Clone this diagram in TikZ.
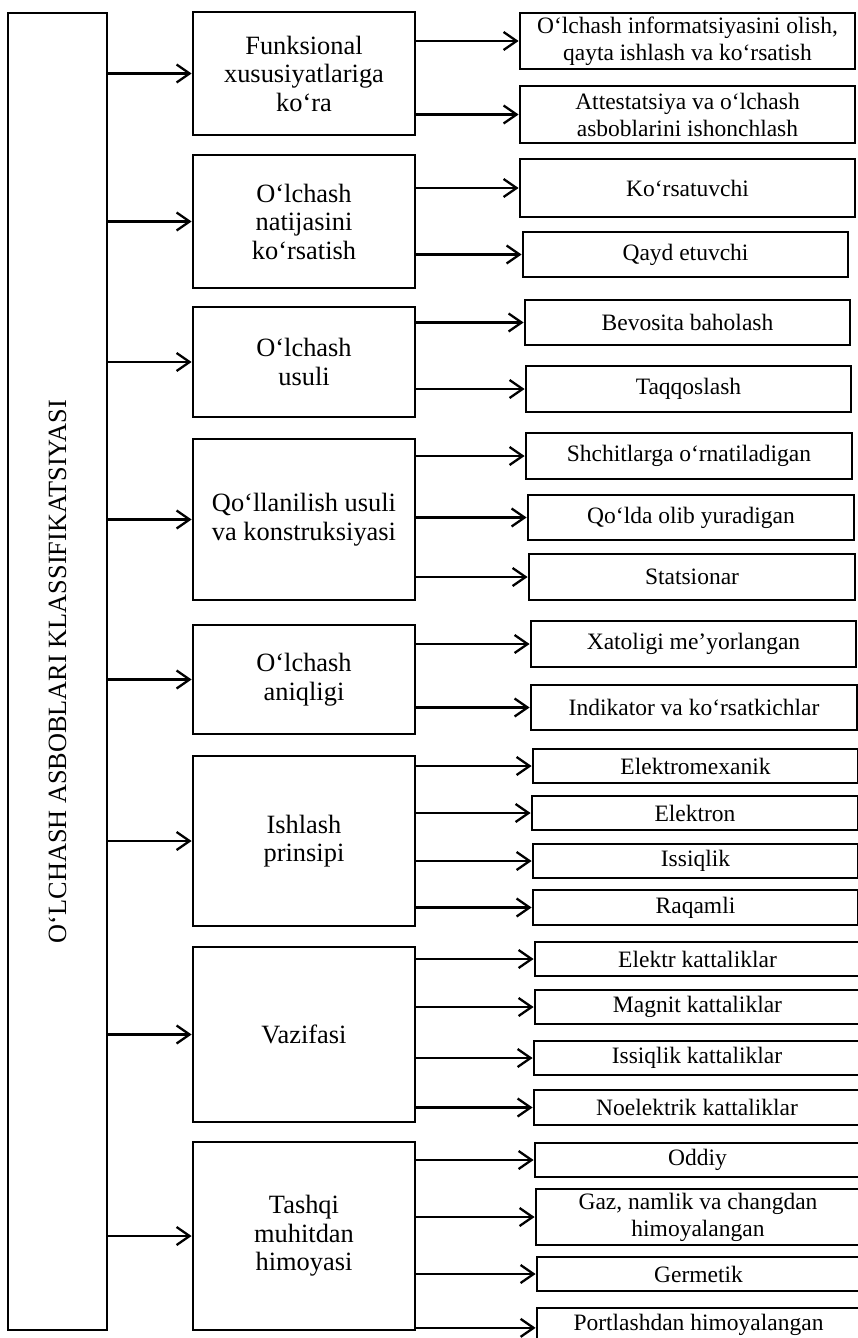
\documentclass[tikz,border=0pt]{standalone}
\usepackage{fontspec}
\setmainfont{Liberation Serif}
\usetikzlibrary{arrows.meta}
\tikzset{
    block/.style = {draw, rectangle, line width=2.8pt, align=center, inner sep=2pt},
    midblock/.style = {block, minimum width=222pt, font=\fontsize{26.4}{28.5}\selectfont},
    subblock/.style = {block, font=\fontsize{23.5}{27}\selectfont},
    arrow/.style = {draw, line width=2.3pt, -{Straight Barb[length=13pt,width=18pt]}}
}

\begin{document}
\begin{tikzpicture}[x=1pt, y=-1pt]
                \useasboundingbox (0,0) rectangle (858,1338);
                \clip (0,0) rectangle (858,1338);
                \node[block, rotate=90, minimum width=1317pt, minimum height=99pt, font=\fontsize{26.3}{30}\selectfont] (title) at (57.5,671.5) {O‘LCHASH ASBOBLARI KLASSIFIKATSIYASI};
                \node[midblock, minimum height=123pt] (m1) at (304,73.5) {Funksional\\xususiyatlariga\\ko‘ra};
                \node[midblock, minimum height=133pt] (m2) at (304,221.5) {O‘lchash\\natijasini\\ko‘rsatish};
                \node[midblock, minimum height=110pt] (m3) at (304,362) {O‘lchash\\usuli};
                \node[midblock, minimum height=161pt] (m4) at (304,519.5) {Qo‘llanilish usuli\\va konstruksiyasi};
                \node[midblock, minimum height=109pt] (m5) at (304,679.5) {O‘lchash\\aniqligi};
                \node[midblock, minimum height=170pt] (m6) at (304,841) {Ishlash\\prinsipi};
                \node[midblock, minimum height=175pt] (m7) at (304,1034.5) {Vazifasi};
                \node[midblock, minimum height=188pt] (m8) at (304,1236) {Tashqi\\muhitdan\\himoyasi};
                \node[subblock, minimum width=335pt, minimum height=56pt] (r1) at (687.5,41) {O‘lchash informatsiyasini olish,\\qayta ishlash va ko‘rsatish};
                \node[subblock, minimum width=335pt, minimum height=57pt] (r2) at (687.5,114.5) {Attestatsiya va o‘lchash\\asboblarini ishonchlash};
                \node[subblock, minimum width=335pt, minimum height=58pt] (r3) at (687.5,188) {Ko‘rsatuvchi};
                \node[subblock, minimum width=325pt, minimum height=45pt] (r4) at (685.5,254.5) {Qayd etuvchi};
                \node[subblock, minimum width=325pt, minimum height=45pt] (r5) at (687.5,322.5) {Bevosita baholash};
                \node[subblock, minimum width=325pt, minimum height=46pt] (r6) at (688.5,389) {Taqqoslash};
                \node[subblock, minimum width=326pt, minimum height=46pt] (r7) at (689,456) {Shchitlarga o‘rnatiladigan};
                \node[subblock, minimum width=326pt, minimum height=45pt] (r8) at (691,517.5) {Qo‘lda olib yuradigan};
                \node[subblock, minimum width=326pt, minimum height=46pt] (r9) at (692,577) {Statsionar};
                \node[subblock, minimum width=325pt, minimum height=46pt] (r10) at (693.5,644) {Xatoligi me’yorlangan};
                \node[subblock, minimum width=326pt, minimum height=45pt] (r11) at (694,707.5) {Indikator va ko‘rsatkichlar};
                \node[subblock, minimum width=325pt, minimum height=34pt] (r12) at (695.5,766) {Elektromexanik};
                \node[subblock, minimum width=326pt, minimum height=34pt] (r13) at (695,813) {Elektron};
                \node[subblock, minimum width=325pt, minimum height=34pt] (r14) at (695.5,861) {Issiqlik};
                \node[subblock, minimum width=325pt, minimum height=35pt] (r15) at (695.5,907.5) {Raqamli};
                \node[subblock, minimum width=325pt, minimum height=34pt] (r16) at (697.5,959) {Elektr kattaliklar};
                \node[subblock, minimum width=325pt, minimum height=34pt] (r17) at (697.5,1007) {Magnit kattaliklar};
                \node[subblock, minimum width=326pt, minimum height=34pt] (r18) at (697,1058) {Issiqlik kattaliklar};
                \node[subblock, minimum width=326pt, minimum height=35pt] (r19) at (697,1107.5) {Noelektrik kattaliklar};
                \node[subblock, minimum width=325pt, minimum height=34pt] (r20) at (697.5,1160) {Oddiy};
                \node[subblock, minimum width=324pt, minimum height=56pt] (r21) at (698,1217) {Gaz, namlik va changdan\\himoyalangan};
                \node[subblock, minimum width=323pt, minimum height=34pt] (r22) at (698.5,1274) {Germetik};
                \node[subblock, minimum width=323pt, minimum height=44pt, text depth=16pt] (r23) at (698.5,1330) {Portlashdan himoyalangan};
                \draw [arrow] (title.south |- m1) -- (m1);
                \draw [arrow] (title.south |- m2) -- (m2);
                \draw [arrow] (title.south |- m3) -- (m3);
                \draw [arrow] (title.south |- m4) -- (m4);
                \draw [arrow] (title.south |- m5) -- (m5);
                \draw [arrow] (title.south |- m6) -- (m6);
                \draw [arrow] (title.south |- m7) -- (m7);
                \draw [arrow] (title.south |- m8) -- (m8);
                \draw [arrow] (m1.east |- r1) -- (r1);
                \draw [arrow] (m1.east |- r2) -- (r2);
                \draw [arrow] (m2.east |- r3) -- (r3);
                \draw [arrow] (m2.east |- r4) -- (r4);
                \draw [arrow] (m3.east |- r5) -- (r5);
                \draw [arrow] (m3.east |- r6) -- (r6);
                \draw [arrow] (m4.east |- r7) -- (r7);
                \draw [arrow] (m4.east |- r8) -- (r8);
                \draw [arrow] (m4.east |- r9) -- (r9);
                \draw [arrow] (m5.east |- r10) -- (r10);
                \draw [arrow] (m5.east |- r11) -- (r11);
                \draw [arrow] (m6.east |- r12) -- (r12);
                \draw [arrow] (m6.east |- r13) -- (r13);
                \draw [arrow] (m6.east |- r14) -- (r14);
                \draw [arrow] (m6.east |- r15) -- (r15);
                \draw [arrow] (m7.east |- r16) -- (r16);
                \draw [arrow] (m7.east |- r17) -- (r17);
                \draw [arrow] (m7.east |- r18) -- (r18);
                \draw [arrow] (m7.east |- r19) -- (r19);
                \draw [arrow] (m8.east |- r20) -- (r20);
                \draw [arrow] (m8.east |- r21) -- (r21);
                \draw [arrow] (m8.east |- r22) -- (r22);
                \draw [arrow] (m8.east |- r23.mid west) -- (r23.mid west);
            \end{tikzpicture}
\end{document}
